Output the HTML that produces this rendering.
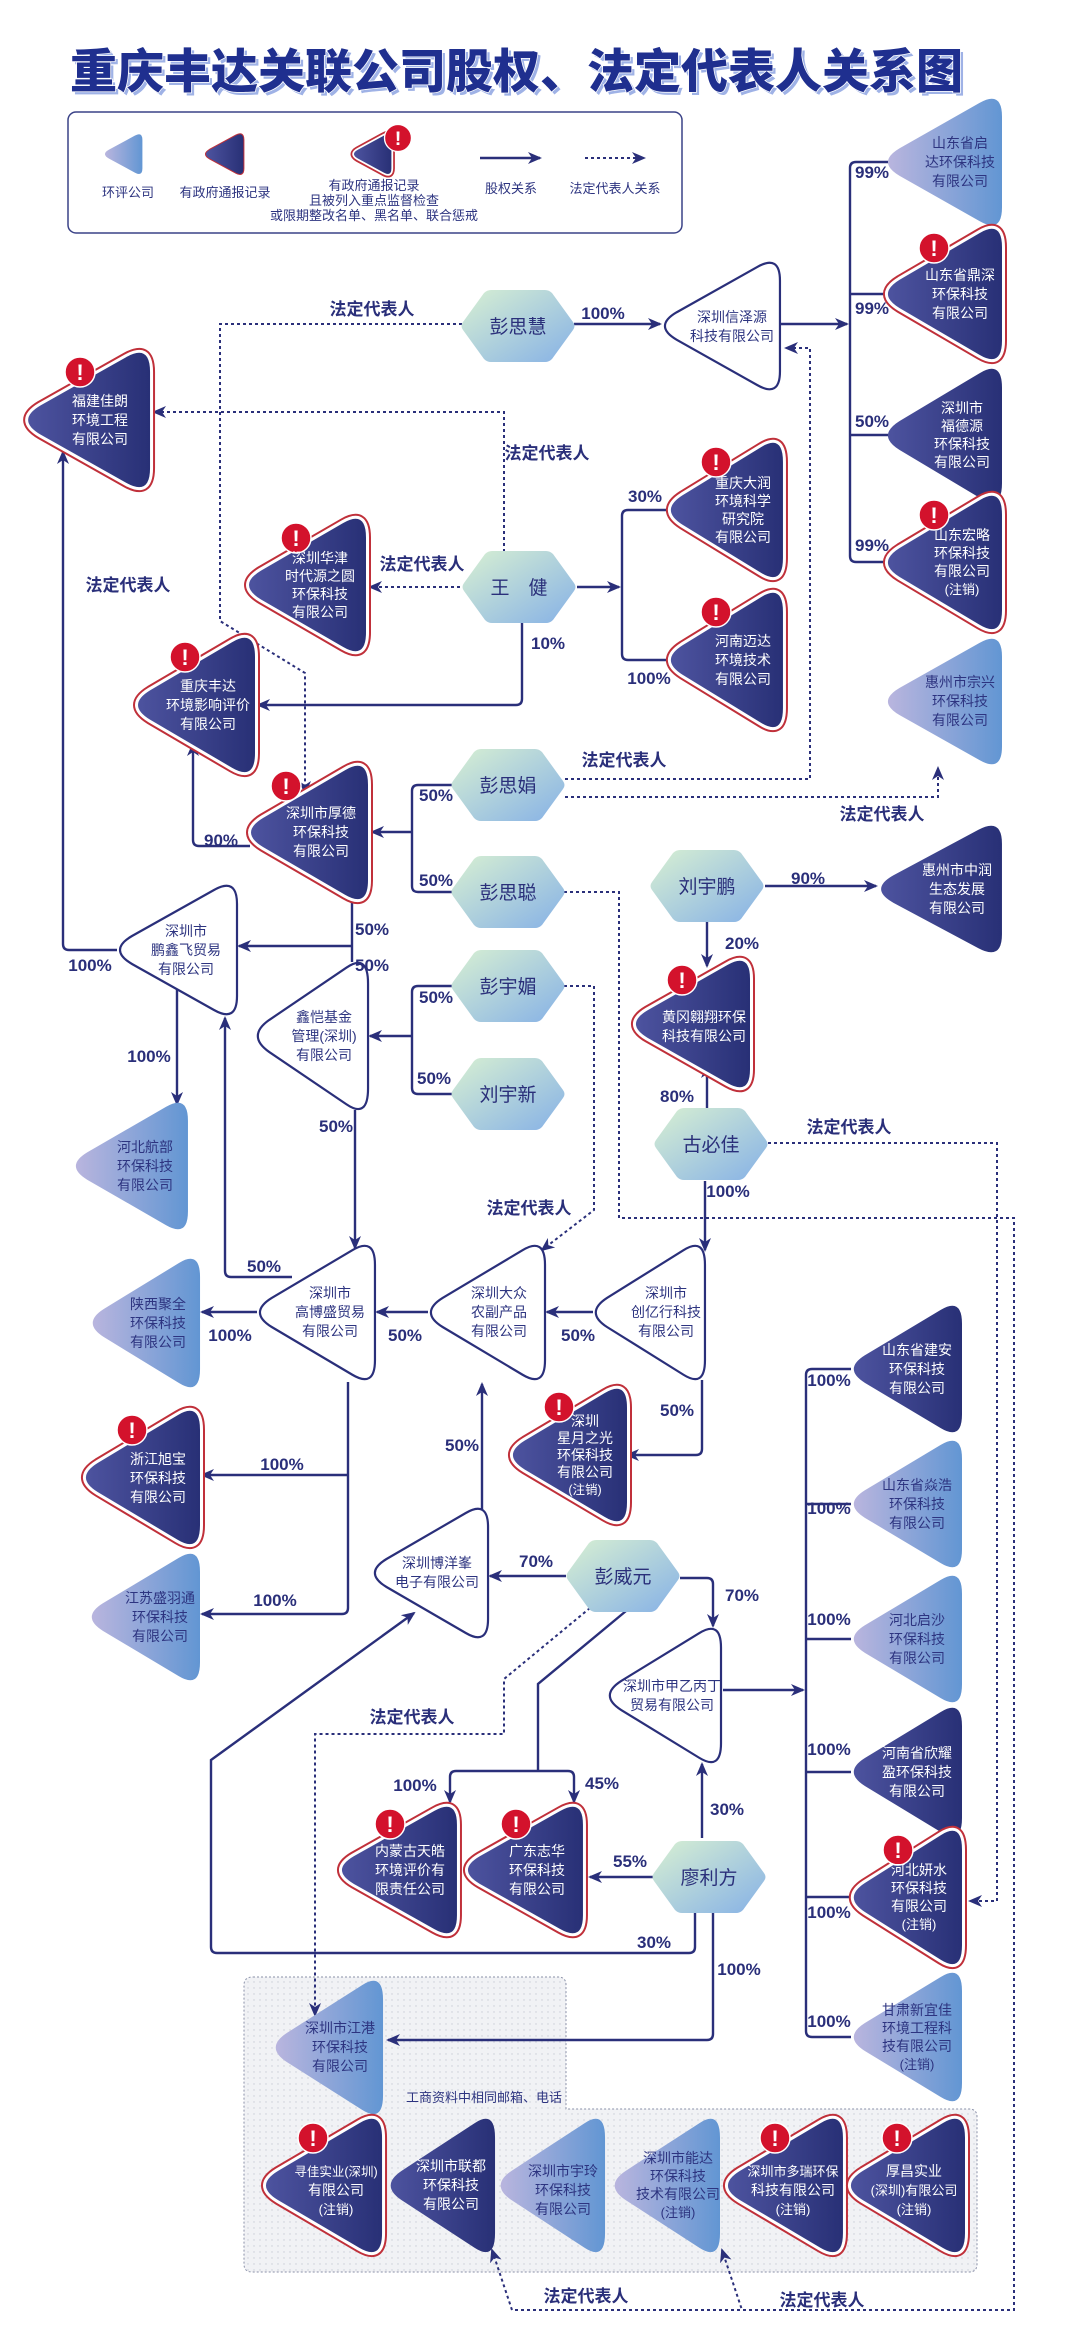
<!DOCTYPE html>
<html><head><meta charset="utf-8">
<style>
html,body{margin:0;padding:0;background:#fff;}
svg{display:block;font-family:"Liberation Sans","Noto Sans CJK SC",sans-serif;}
.tn{font-size:14px;fill:#2d3480;text-anchor:middle;}
.tw{font-size:14px;fill:#fff;text-anchor:middle;}
.pc{font-size:17px;font-weight:bold;fill:#2a2f7a;text-anchor:middle;}
.fd{font-size:17px;font-weight:bold;fill:#2a2f7a;text-anchor:middle;}
.hx{font-size:19px;fill:#2a2f7a;text-anchor:middle;}
.lg{font-size:13px;fill:#2d3480;text-anchor:middle;}
.ln{fill:none;stroke:#2a2f7a;stroke-width:2.4;}
.dt{fill:none;stroke:#2a2f7a;stroke-width:2;stroke-dasharray:3 3;}
.al{font-size:22px;font-weight:bold;fill:#fff;text-anchor:middle;}
</style></head><body>
<svg width="1080" height="2346" viewBox="0 0 1080 2346" xmlns="http://www.w3.org/2000/svg">
<defs>
<linearGradient id="gL" x1="0" y1="0" x2="1" y2="0"><stop offset="0" stop-color="#b9b5de"/><stop offset="1" stop-color="#6296d3"/></linearGradient>
<linearGradient id="gD" x1="0" y1="0" x2="1" y2="0"><stop offset="0" stop-color="#4d539f"/><stop offset="1" stop-color="#283076"/></linearGradient>
<linearGradient id="gH" x1="0" y1="0" x2="1" y2="1"><stop offset="0" stop-color="#d8f0d2"/><stop offset="1" stop-color="#86b1e6"/></linearGradient>
<pattern id="dots" width="6" height="6" patternUnits="userSpaceOnUse"><rect width="6" height="6" fill="#f1f2f5"/><circle cx="2" cy="2" r="0.7" fill="#c9ccd6"/></pattern>
<path id="tp" vector-effect="non-scaling-stroke" d="M15,51 L97,5 Q120,-8 120,19 L120,111 Q120,138 97,125 L15,79 Q-9,65 15,51 Z"/>
<path id="hp" d="M-55,-4 L-34,-33 Q-31,-36 -27,-36 L27,-36 Q31,-36 34,-33 L55,-4 Q58,0 55,4 L34,33 Q31,36 27,36 L-27,36 Q-31,36 -34,33 L-55,4 Q-58,0 -55,-4 Z"/>
<marker id="ar" markerWidth="14" markerHeight="12" refX="12" refY="6" orient="auto" markerUnits="userSpaceOnUse"><path d="M0,0 L14,6 L0,12 L4,6 Z" fill="#2a2f7a"/></marker>
<g id="alert"><circle r="15" fill="#d3122c" stroke="#fff" stroke-width="1.5"/><text class="al" y="8">!</text></g>
</defs>

<text x="73" y="91" font-size="47" font-weight="900" fill="#9fb2e6">重庆丰达关联公司股权、法定代表人关系图</text>
<text x="70" y="88" font-size="47" font-weight="900" fill="#1f2f8f" stroke="#fff" stroke-width="1.5" paint-order="stroke">重庆丰达关联公司股权、法定代表人关系图</text>

<rect x="68" y="112" width="614" height="121" rx="8" fill="#fff" stroke="#3a4287" stroke-width="1.5"/>
<use href="#tp" fill="url(#gL)" transform="translate(104,134) scale(0.32,0.31)"/>
<use href="#tp" fill="none" stroke="#c0303a" stroke-width="2" transform="translate(205,134) scale(0.32,0.31)"/>
<use href="#tp" fill="url(#gD)" transform="translate(205,134) scale(0.32,0.31)"/>
<use href="#tp" fill="none" stroke="#c0303a" stroke-width="7" transform="translate(353,134) scale(0.32,0.31)"/>
<use href="#tp" fill="none" stroke="#fff" stroke-width="3.5" transform="translate(353,134) scale(0.32,0.31)"/>
<use href="#tp" fill="url(#gD)" transform="translate(353,134) scale(0.32,0.31)"/>
<use href="#alert" transform="translate(398,138) scale(0.9)"/>
<path class="ln" d="M480,158 H540" marker-end="url(#ar)"/>
<path class="dt" d="M585,158 H644" marker-end="url(#ar)"/>
<text class="lg" x="128" y="197">环评公司</text>
<text class="lg" x="225" y="197">有政府通报记录</text>
<text class="lg" x="374" y="190">有政府通报记录</text>
<text class="lg" x="374" y="205">且被列入重点监督检查</text>
<text class="lg" x="374" y="220">或限期整改名单、黑名单、联合惩戒</text>
<text class="lg" x="511" y="193">股权关系</text>
<text class="lg" x="615" y="193">法定代表人关系</text>

<path d="M253,1977 H558 Q566,1977 566,1985 V2109 H969 Q977,2109 977,2117 V2264 Q977,2272 969,2272 H252 Q244,2272 244,2264 V1985 Q244,1977 253,1977 Z" fill="url(#dots)" stroke="#8a90a8" stroke-width="1" stroke-dasharray="2 2"/>
<text x="484" y="2102" font-size="13" fill="#2d3480" text-anchor="middle">工商资料中相同邮箱、电话</text>

<path class="ln" d="M574,324 H660" marker-end="url(#ar)"/>
<path class="ln" d="M781,324 H847" marker-end="url(#ar)"/>
<path class="ln" d="M888,162 H856 Q850,162 850,168 V556 Q850,562 856,562 H888 M850,294 H888 M850,435 H888"/>
<path class="dt" d="M462,324 H220 V621 L305,673 V793" marker-end="url(#ar)"/>
<path class="dt" d="M504,552 V412 H154" marker-end="url(#ar)"/>
<path class="dt" d="M460,587 H370" marker-end="url(#ar)"/>
<path class="ln" d="M577,587 H619" marker-end="url(#ar)"/>
<path class="ln" d="M668,510 H628 Q622,510 622,516 V654 Q622,660 628,660 H668"/>
<path class="ln" d="M522,623 V699 Q522,705 516,705 H258" marker-end="url(#ar)"/>
<path class="ln" d="M117,950 H69 Q63,950 63,944 V452" marker-end="url(#ar)"/>
<path class="ln" d="M250,846 H199 Q193,846 193,840 V744" marker-end="url(#ar)"/>
<path class="ln" d="M452,785 H418 Q412,785 412,791 V886 Q412,892 418,892 H452 M412,832 H372" marker-end="url(#ar)"/>
<path class="dt" d="M565,779 H810 V348 H786" marker-end="url(#ar)"/>
<path class="dt" d="M565,797 H938 V768" marker-end="url(#ar)"/>
<path class="dt" d="M564,892 H619 V1218 H1014 V2310 H742 L722,2250" marker-end="url(#ar)"/>
<path class="dt" d="M740,2310 H512 L492,2250" marker-end="url(#ar)"/>
<path class="ln" d="M765,886 H876" marker-end="url(#ar)"/>
<path class="ln" d="M707,922 V966" marker-end="url(#ar)"/>
<path class="ln" d="M707,1108 V1066" marker-end="url(#ar)"/>
<path class="dt" d="M768,1143 H997 V1901 H970" marker-end="url(#ar)"/>
<path class="ln" d="M705,1181 V1250" marker-end="url(#ar)"/>
<path class="ln" d="M352,900 V962 M352,946 H239" marker-end="url(#ar)"/>
<path class="ln" d="M177,985 V1104" marker-end="url(#ar)"/>
<path class="ln" d="M452,986 H418 Q412,986 412,992 V1088 Q412,1094 418,1094 H452 M412,1036 H370" marker-end="url(#ar)"/>
<path class="dt" d="M564,986 H594 V1210 L542,1250" marker-end="url(#ar)"/>
<path class="ln" d="M355,1110 V1248" marker-end="url(#ar)"/>
<path class="ln" d="M292,1277 H231 Q225,1277 225,1271 V1018" marker-end="url(#ar)"/>
<path class="ln" d="M257,1312 H202" marker-end="url(#ar)"/>
<path class="ln" d="M428,1312 H377" marker-end="url(#ar)"/>
<path class="ln" d="M593,1312 H547" marker-end="url(#ar)"/>
<path class="ln" d="M702,1380 V1449 Q702,1455 696,1455 H627" marker-end="url(#ar)"/>
<path class="ln" d="M348,1382 V1608 Q348,1614 342,1614 H202" marker-end="url(#ar)"/>
<path class="ln" d="M348,1475 H202" marker-end="url(#ar)"/>
<path class="ln" d="M482,1520 V1384" marker-end="url(#ar)"/>
<path class="ln" d="M566,1576 H490" marker-end="url(#ar)"/>
<path class="ln" d="M680,1578 H707 Q713,1578 713,1584 V1626" marker-end="url(#ar)"/>
<path class="ln" d="M626,1611 L538,1684 V1771 M450,1777 Q450,1771 456,1771 H568 Q574,1771 574,1777 V1802" marker-end="url(#ar)"/>
<path class="ln" d="M450,1777 V1802" marker-end="url(#ar)"/>
<path class="dt" d="M590,1608 L504,1679 V1734 H315 V2015" marker-end="url(#ar)"/>
<path class="ln" d="M702,1838 V1764" marker-end="url(#ar)"/>
<path class="ln" d="M654,1877 H590" marker-end="url(#ar)"/>
<path class="ln" d="M695,1912 V1947 Q695,1953 689,1953 H217 Q211,1953 211,1947 V1760 L414,1613" marker-end="url(#ar)"/>
<path class="ln" d="M713,1912 V2034 Q713,2040 707,2040 H388" marker-end="url(#ar)"/>
<path class="ln" d="M723,1690 H803" marker-end="url(#ar)"/>
<path class="ln" d="M851,1369 H812 Q806,1369 806,1375 V2031 Q806,2037 812,2037 H851 M806,1504 H851 M806,1639 H851 M806,1772 H851 M806,1897 H851"/>

<use href="#tp" fill="url(#gL)" transform="translate(885,98) scale(0.975,0.985)"/>
<use href="#tp" fill="url(#gL)" transform="translate(885,638) scale(0.975,0.977)"/>
<use href="#tp" fill="url(#gL)" transform="translate(73,1102) scale(0.958,0.985)"/>
<use href="#tp" fill="url(#gL)" transform="translate(90,1258) scale(0.917,1)"/>
<use href="#tp" fill="url(#gL)" transform="translate(89,1553) scale(0.925,0.985)"/>
<use href="#tp" fill="url(#gL)" transform="translate(851,1440) scale(0.925,0.985)"/>
<use href="#tp" fill="url(#gL)" transform="translate(851,1575) scale(0.925,0.985)"/>
<use href="#tp" fill="url(#gL)" transform="translate(851,1972) scale(0.925,1)"/>
<use href="#tp" fill="url(#gL)" transform="translate(273,1980) scale(0.917,1.038)"/>
<use href="#tp" fill="url(#gL)" transform="translate(498,2118) scale(0.892,1.038)"/>
<use href="#tp" fill="url(#gL)" transform="translate(612,2118) scale(0.9,1.038)"/>
<use href="#tp" fill="url(#gD)" transform="translate(885,368) scale(0.975,1.038)"/>
<use href="#tp" fill="url(#gD)" transform="translate(878,825) scale(1.033,0.985)"/>
<use href="#tp" fill="url(#gD)" transform="translate(851,1305) scale(0.925,0.985)"/>
<use href="#tp" fill="url(#gD)" transform="translate(851,1707) scale(0.925,1)"/>
<use href="#tp" fill="url(#gD)" transform="translate(388,2118) scale(0.892,1.038)"/>
<g fill="#fff" stroke="#2a2f7a" stroke-width="2.2">
<use href="#tp" transform="translate(662,262) scale(0.983,0.985)"/>
<use href="#tp" transform="translate(117,885) scale(1,1)"/>
<use href="#tp" transform="translate(255,962) scale(0.942,1.138)"/>
<use href="#tp" transform="translate(257,1245) scale(0.983,1.038)"/>
<use href="#tp" transform="translate(428,1245) scale(0.975,1.038)"/>
<use href="#tp" transform="translate(593,1245) scale(0.933,1.038)"/>
<use href="#tp" transform="translate(372,1508) scale(0.967,1)"/>
<use href="#tp" transform="translate(607,1628) scale(0.95,1.038)"/>
</g>
<g>
<g transform="translate(885,228) scale(0.975,1.015)"><use href="#tp" fill="none" stroke="#c0303a" stroke-width="10"/><use href="#tp" fill="none" stroke="#fff" stroke-width="6"/><use href="#tp" fill="url(#gD)"/></g>
<g transform="translate(885,495) scale(0.975,1.038)"><use href="#tp" fill="none" stroke="#c0303a" stroke-width="10"/><use href="#tp" fill="none" stroke="#fff" stroke-width="6"/><use href="#tp" fill="url(#gD)"/></g>
<g transform="translate(25,352) scale(1.042,1.046)"><use href="#tp" fill="none" stroke="#c0303a" stroke-width="10"/><use href="#tp" fill="none" stroke="#fff" stroke-width="6"/><use href="#tp" fill="url(#gD)"/></g>
<g transform="translate(246,518) scale(1,1.031)"><use href="#tp" fill="none" stroke="#c0303a" stroke-width="10"/><use href="#tp" fill="none" stroke="#fff" stroke-width="6"/><use href="#tp" fill="url(#gD)"/></g>
<g transform="translate(668,442) scale(0.958,1.046)"><use href="#tp" fill="none" stroke="#c0303a" stroke-width="10"/><use href="#tp" fill="none" stroke="#fff" stroke-width="6"/><use href="#tp" fill="url(#gD)"/></g>
<g transform="translate(668,592) scale(0.958,1.046)"><use href="#tp" fill="none" stroke="#c0303a" stroke-width="10"/><use href="#tp" fill="none" stroke="#fff" stroke-width="6"/><use href="#tp" fill="url(#gD)"/></g>
<g transform="translate(135,637) scale(1,1.046)"><use href="#tp" fill="none" stroke="#c0303a" stroke-width="10"/><use href="#tp" fill="none" stroke="#fff" stroke-width="6"/><use href="#tp" fill="url(#gD)"/></g>
<g transform="translate(248,765) scale(1,1.038)"><use href="#tp" fill="none" stroke="#c0303a" stroke-width="10"/><use href="#tp" fill="none" stroke="#fff" stroke-width="6"/><use href="#tp" fill="url(#gD)"/></g>
<g transform="translate(633,960) scale(0.975,0.985)"><use href="#tp" fill="none" stroke="#c0303a" stroke-width="10"/><use href="#tp" fill="none" stroke="#fff" stroke-width="6"/><use href="#tp" fill="url(#gD)"/></g>
<g transform="translate(510,1388) scale(0.975,1.031)"><use href="#tp" fill="none" stroke="#c0303a" stroke-width="10"/><use href="#tp" fill="none" stroke="#fff" stroke-width="6"/><use href="#tp" fill="url(#gD)"/></g>
<g transform="translate(83,1410) scale(0.975,1.038)"><use href="#tp" fill="none" stroke="#c0303a" stroke-width="10"/><use href="#tp" fill="none" stroke="#fff" stroke-width="6"/><use href="#tp" fill="url(#gD)"/></g>
<g transform="translate(851,1830) scale(0.925,1.038)"><use href="#tp" fill="none" stroke="#c0303a" stroke-width="10"/><use href="#tp" fill="none" stroke="#fff" stroke-width="6"/><use href="#tp" fill="url(#gD)"/></g>
<g transform="translate(339,1806) scale(0.983,0.985)"><use href="#tp" fill="none" stroke="#c0303a" stroke-width="10"/><use href="#tp" fill="none" stroke="#fff" stroke-width="6"/><use href="#tp" fill="url(#gD)"/></g>
<g transform="translate(465,1806) scale(0.983,0.985)"><use href="#tp" fill="none" stroke="#c0303a" stroke-width="10"/><use href="#tp" fill="none" stroke="#fff" stroke-width="6"/><use href="#tp" fill="url(#gD)"/></g>
<g transform="translate(263,2118) scale(0.992,1.038)"><use href="#tp" fill="none" stroke="#c0303a" stroke-width="10"/><use href="#tp" fill="none" stroke="#fff" stroke-width="6"/><use href="#tp" fill="url(#gD)"/></g>
<g transform="translate(725,2118) scale(0.983,1.038)"><use href="#tp" fill="none" stroke="#c0303a" stroke-width="10"/><use href="#tp" fill="none" stroke="#fff" stroke-width="6"/><use href="#tp" fill="url(#gD)"/></g>
<g transform="translate(848,2118) scale(0.975,1.038)"><use href="#tp" fill="none" stroke="#c0303a" stroke-width="10"/><use href="#tp" fill="none" stroke="#fff" stroke-width="6"/><use href="#tp" fill="url(#gD)"/></g>
</g>
<use href="#alert" x="934" y="248"/>
<use href="#alert" x="934" y="515"/>
<use href="#alert" x="80" y="372"/>
<use href="#alert" x="296" y="538"/>
<use href="#alert" x="716" y="462"/>
<use href="#alert" x="716" y="612"/>
<use href="#alert" x="185" y="657"/>
<use href="#alert" x="286" y="786"/>
<use href="#alert" x="682" y="980"/>
<use href="#alert" x="559" y="1407"/>
<use href="#alert" x="132" y="1430"/>
<use href="#alert" x="898" y="1850"/>
<use href="#alert" x="390" y="1824"/>
<use href="#alert" x="516" y="1824"/>
<use href="#alert" x="313" y="2138"/>
<use href="#alert" x="775" y="2138"/>
<use href="#alert" x="897" y="2138"/>

<g fill="url(#gH)">
<use href="#hp" x="518" y="326"/>
<use href="#hp" x="519" y="587"/>
<use href="#hp" x="508" y="785"/>
<use href="#hp" x="508" y="892"/>
<use href="#hp" x="707" y="886"/>
<use href="#hp" x="508" y="986"/>
<use href="#hp" x="508" y="1094"/>
<use href="#hp" x="711" y="1144"/>
<use href="#hp" x="623" y="1576"/>
<use href="#hp" x="709" y="1877"/>
</g>
<text class="hx" x="518" y="333">彭思慧</text>
<text class="hx" x="519" y="594">王　健</text>
<text class="hx" x="508" y="792">彭思娟</text>
<text class="hx" x="508" y="899">彭思聪</text>
<text class="hx" x="707" y="893">刘宇鹏</text>
<text class="hx" x="508" y="993">彭宇媚</text>
<text class="hx" x="508" y="1101">刘宇新</text>
<text class="hx" x="711" y="1151">古必佳</text>
<text class="hx" x="623" y="1583">彭威元</text>
<text class="hx" x="709" y="1884">廖利方</text>

<text class="tn"><tspan x="960" y="148">山东省启</tspan><tspan x="960" y="167">达环保科技</tspan><tspan x="960" y="186">有限公司</tspan></text>
<text class="tw"><tspan x="960" y="280">山东省鼎深</tspan><tspan x="960" y="299">环保科技</tspan><tspan x="960" y="318">有限公司</tspan></text>
<text class="tw"><tspan x="962" y="413">深圳市</tspan><tspan x="962" y="431">福德源</tspan><tspan x="962" y="449">环保科技</tspan><tspan x="962" y="467">有限公司</tspan></text>
<text class="tw"><tspan x="962" y="540">山东宏略</tspan><tspan x="962" y="558">环保科技</tspan><tspan x="962" y="576">有限公司</tspan><tspan x="962" y="594" font-size="13">(注销)</tspan></text>
<text class="tn"><tspan x="960" y="687">惠州市宗兴</tspan><tspan x="960" y="706">环保科技</tspan><tspan x="960" y="725">有限公司</tspan></text>
<text class="tn"><tspan x="732" y="322">深圳信泽源</tspan><tspan x="732" y="341">科技有限公司</tspan></text>
<text class="tw"><tspan x="100" y="406">福建佳朗</tspan><tspan x="100" y="425">环境工程</tspan><tspan x="100" y="444">有限公司</tspan></text>
<text class="tw"><tspan x="320" y="563">深圳华津</tspan><tspan x="320" y="581">时代源之圆</tspan><tspan x="320" y="599">环保科技</tspan><tspan x="320" y="617">有限公司</tspan></text>
<text class="tw"><tspan x="743" y="488">重庆大润</tspan><tspan x="743" y="506">环境科学</tspan><tspan x="743" y="524">研究院</tspan><tspan x="743" y="542">有限公司</tspan></text>
<text class="tw"><tspan x="743" y="646">河南迈达</tspan><tspan x="743" y="665">环境技术</tspan><tspan x="743" y="684">有限公司</tspan></text>
<text class="tw"><tspan x="208" y="691">重庆丰达</tspan><tspan x="208" y="710">环境影响评价</tspan><tspan x="208" y="729">有限公司</tspan></text>
<text class="tw"><tspan x="321" y="818">深圳市厚德</tspan><tspan x="321" y="837">环保科技</tspan><tspan x="321" y="856">有限公司</tspan></text>
<text class="tn"><tspan x="186" y="936">深圳市</tspan><tspan x="186" y="955">鹏鑫飞贸易</tspan><tspan x="186" y="974">有限公司</tspan></text>
<text class="tw"><tspan x="957" y="875">惠州市中润</tspan><tspan x="957" y="894">生态发展</tspan><tspan x="957" y="913">有限公司</tspan></text>
<text class="tw"><tspan x="704" y="1022">黄冈翱翔环保</tspan><tspan x="704" y="1041">科技有限公司</tspan></text>
<text class="tn"><tspan x="324" y="1022">鑫恺基金</tspan><tspan x="324" y="1041">管理(深圳)</tspan><tspan x="324" y="1060">有限公司</tspan></text>
<text class="tn"><tspan x="145" y="1152">河北航部</tspan><tspan x="145" y="1171">环保科技</tspan><tspan x="145" y="1190">有限公司</tspan></text>
<text class="tn"><tspan x="330" y="1298">深圳市</tspan><tspan x="330" y="1317">高博盛贸易</tspan><tspan x="330" y="1336">有限公司</tspan></text>
<text class="tn"><tspan x="499" y="1298">深圳大众</tspan><tspan x="499" y="1317">农副产品</tspan><tspan x="499" y="1336">有限公司</tspan></text>
<text class="tn"><tspan x="666" y="1298">深圳市</tspan><tspan x="666" y="1317">创亿行科技</tspan><tspan x="666" y="1336">有限公司</tspan></text>
<text class="tn"><tspan x="158" y="1309">陕西聚全</tspan><tspan x="158" y="1328">环保科技</tspan><tspan x="158" y="1347">有限公司</tspan></text>
<text class="tw"><tspan x="585" y="1426">深圳</tspan><tspan x="585" y="1443">星月之光</tspan><tspan x="585" y="1460">环保科技</tspan><tspan x="585" y="1477">有限公司</tspan><tspan x="585" y="1494" font-size="12.5">(注销)</tspan></text>
<text class="tw"><tspan x="158" y="1464">浙江旭宝</tspan><tspan x="158" y="1483">环保科技</tspan><tspan x="158" y="1502">有限公司</tspan></text>
<text class="tn"><tspan x="160" y="1603">江苏盛羽通</tspan><tspan x="160" y="1622">环保科技</tspan><tspan x="160" y="1641">有限公司</tspan></text>
<text class="tn"><tspan x="437" y="1568">深圳博洋峯</tspan><tspan x="437" y="1587">电子有限公司</tspan></text>
<text class="tn"><tspan x="672" y="1691">深圳市甲乙丙丁</tspan><tspan x="672" y="1710">贸易有限公司</tspan></text>
<text class="tw"><tspan x="917" y="1355">山东省建安</tspan><tspan x="917" y="1374">环保科技</tspan><tspan x="917" y="1393">有限公司</tspan></text>
<text class="tn"><tspan x="917" y="1490">山东省焱浩</tspan><tspan x="917" y="1509">环保科技</tspan><tspan x="917" y="1528">有限公司</tspan></text>
<text class="tn"><tspan x="917" y="1625">河北启沙</tspan><tspan x="917" y="1644">环保科技</tspan><tspan x="917" y="1663">有限公司</tspan></text>
<text class="tw"><tspan x="917" y="1758">河南省欣耀</tspan><tspan x="917" y="1777">盈环保科技</tspan><tspan x="917" y="1796">有限公司</tspan></text>
<text class="tw"><tspan x="919" y="1875">河北妍水</tspan><tspan x="919" y="1893">环保科技</tspan><tspan x="919" y="1911">有限公司</tspan><tspan x="919" y="1929" font-size="13">(注销)</tspan></text>
<text class="tn"><tspan x="917" y="2015">甘肃新宜佳</tspan><tspan x="917" y="2033">环境工程科</tspan><tspan x="917" y="2051">技有限公司</tspan><tspan x="917" y="2069" font-size="13">(注销)</tspan></text>
<text class="tw"><tspan x="410" y="1856">内蒙古天皓</tspan><tspan x="410" y="1875">环境评价有</tspan><tspan x="410" y="1894">限责任公司</tspan></text>
<text class="tw"><tspan x="537" y="1856">广东志华</tspan><tspan x="537" y="1875">环保科技</tspan><tspan x="537" y="1894">有限公司</tspan></text>
<text class="tn"><tspan x="340" y="2033">深圳市江港</tspan><tspan x="340" y="2052">环保科技</tspan><tspan x="340" y="2071">有限公司</tspan></text>
<text class="tw"><tspan x="336" y="2176" font-size="12.5">寻佳实业(深圳)</tspan><tspan x="336" y="2195">有限公司</tspan><tspan x="336" y="2214" font-size="13">(注销)</tspan></text>
<text class="tw"><tspan x="451" y="2171">深圳市联都</tspan><tspan x="451" y="2190">环保科技</tspan><tspan x="451" y="2209">有限公司</tspan></text>
<text class="tn"><tspan x="563" y="2176">深圳市宇玲</tspan><tspan x="563" y="2195">环保科技</tspan><tspan x="563" y="2214">有限公司</tspan></text>
<text class="tn"><tspan x="678" y="2163">深圳市能达</tspan><tspan x="678" y="2181">环保科技</tspan><tspan x="678" y="2199">技术有限公司</tspan><tspan x="678" y="2217" font-size="13">(注销)</tspan></text>
<text class="tw"><tspan x="793" y="2176" font-size="13">深圳市多瑞环保</tspan><tspan x="793" y="2195">科技有限公司</tspan><tspan x="793" y="2214" font-size="13">(注销)</tspan></text>
<text class="tw"><tspan x="914" y="2176">厚昌实业</tspan><tspan x="914" y="2195" font-size="13">(深圳)有限公司</tspan><tspan x="914" y="2214" font-size="13">(注销)</tspan></text>

<text class="pc" x="603" y="319">100%</text>
<text class="pc" x="872" y="178">99%</text>
<text class="pc" x="872" y="314">99%</text>
<text class="pc" x="872" y="427">50%</text>
<text class="pc" x="872" y="551">99%</text>
<text class="pc" x="645" y="502">30%</text>
<text class="pc" x="649" y="684">100%</text>
<text class="pc" x="548" y="649">10%</text>
<text class="pc" x="221" y="846">90%</text>
<text class="pc" x="436" y="801">50%</text>
<text class="pc" x="436" y="886">50%</text>
<text class="pc" x="372" y="935">50%</text>
<text class="pc" x="372" y="971">50%</text>
<text class="pc" x="90" y="971">100%</text>
<text class="pc" x="149" y="1062">100%</text>
<text class="pc" x="436" y="1003">50%</text>
<text class="pc" x="434" y="1084">50%</text>
<text class="pc" x="336" y="1132">50%</text>
<text class="pc" x="808" y="884">90%</text>
<text class="pc" x="742" y="949">20%</text>
<text class="pc" x="677" y="1102">80%</text>
<text class="pc" x="728" y="1197">100%</text>
<text class="pc" x="264" y="1272">50%</text>
<text class="pc" x="230" y="1341">100%</text>
<text class="pc" x="405" y="1341">50%</text>
<text class="pc" x="578" y="1341">50%</text>
<text class="pc" x="677" y="1416">50%</text>
<text class="pc" x="282" y="1470">100%</text>
<text class="pc" x="462" y="1451">50%</text>
<text class="pc" x="275" y="1606">100%</text>
<text class="pc" x="536" y="1567">70%</text>
<text class="pc" x="742" y="1601">70%</text>
<text class="pc" x="829" y="1386">100%</text>
<text class="pc" x="829" y="1514">100%</text>
<text class="pc" x="829" y="1625">100%</text>
<text class="pc" x="829" y="1755">100%</text>
<text class="pc" x="829" y="1918">100%</text>
<text class="pc" x="829" y="2027">100%</text>
<text class="pc" x="415" y="1791">100%</text>
<text class="pc" x="602" y="1789">45%</text>
<text class="pc" x="727" y="1815">30%</text>
<text class="pc" x="630" y="1867">55%</text>
<text class="pc" x="654" y="1948">30%</text>
<text class="pc" x="739" y="1975">100%</text>

<text class="fd" x="372" y="315">法定代表人</text>
<text class="fd" x="547" y="459">法定代表人</text>
<text class="fd" x="422" y="570">法定代表人</text>
<text class="fd" x="128" y="591">法定代表人</text>
<text class="fd" x="624" y="766">法定代表人</text>
<text class="fd" x="882" y="820">法定代表人</text>
<text class="fd" x="849" y="1133">法定代表人</text>
<text class="fd" x="529" y="1214">法定代表人</text>
<text class="fd" x="412" y="1723">法定代表人</text>
<text class="fd" x="586" y="2302">法定代表人</text>
<text class="fd" x="822" y="2306">法定代表人</text>
</svg>
</body></html>
